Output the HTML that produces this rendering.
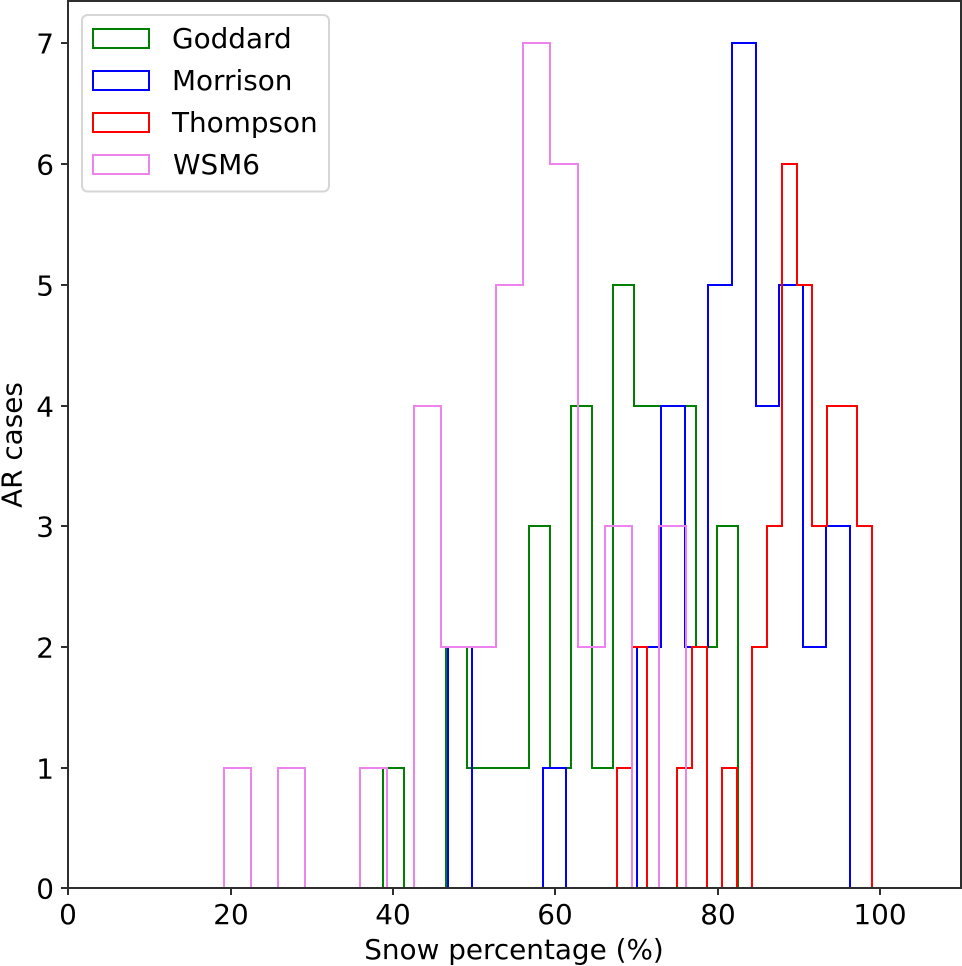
<!DOCTYPE html>
<html>
<head>
<meta charset="utf-8">
<title>Snow percentage histogram</title>
<style>
html,body{margin:0;padding:0;background:#fff;width:962px;height:966px;overflow:hidden}
svg{display:block}
text{font-family:"DejaVu Sans","Liberation Sans",sans-serif;font-size:27.85px;fill:#000}
</style>
</head>
<body>
<svg id="chart" width="962" height="966" viewBox="0 0 962 966" xmlns="http://www.w3.org/2000/svg">
  <defs><clipPath id="plot-clip"><rect x="68" y="1" width="893" height="887"/></clipPath></defs>
  <rect x="0" y="0" width="962" height="966" fill="#fff"/>
  <g id="series" clip-path="url(#plot-clip)"></g>
  <g id="spines" fill="none" stroke="#2e2e2e" stroke-width="2">
    <rect x="68" y="1" width="893" height="887"/>
  </g>
  <g id="x-ticks"></g>
  <g id="y-ticks"></g>
  <text x="514" y="959" text-anchor="middle">Snow percentage (%)</text>
  <text transform="translate(21.5,445) rotate(-90)" text-anchor="middle">AR cases</text>
  <g>
    <rect x="82" y="15" width="247" height="176.5" rx="5.5" ry="5.5" fill="#fff" fill-opacity="0.8" stroke="#d6d6d6" stroke-width="2"/>
    <g>
      <rect x="93" y="29" width="56" height="19" fill="none" stroke="green" stroke-width="2"/>
      <text x="172" y="48">Goddard</text>
    </g>
    <g>
      <rect x="93" y="71" width="56" height="19" fill="none" stroke="blue" stroke-width="2"/>
      <text x="172" y="90">Morrison</text>
    </g>
    <g>
      <rect x="93" y="113" width="56" height="19" fill="none" stroke="red" stroke-width="2"/>
      <text x="172" y="132">Thompson</text>
    </g>
    <g>
      <rect x="93" y="155" width="56" height="19" fill="none" stroke="violet" stroke-width="2"/>
      <text x="173" y="174">WSM6</text>
    </g>
  </g>
</svg>
<script>
const xTickLabels = [0, 20, 40, 60, 80, 100];
const yTickLabels = [0, 1, 2, 3, 4, 5, 6, 7];

const goddardRange = [38.77, 82.49];
const goddardCounts = [1, 0, 0, 2, 1, 1, 1, 3, 1, 4, 1, 5, 4, 4, 4, 2, 3];

const morrisonRange = [46.786, 96.299];
const morrisonCounts = [2, 0, 0, 0, 1, 0, 0, 0, 2, 4, 2, 5, 7, 4, 5, 2, 3];

const thompsonRange = [67.59, 98.99];
const thompsonCounts = [1, 2, 0, 0, 1, 2, 0, 1, 0, 2, 3, 6, 5, 3, 4, 4, 3];

const wsm6Range = [19.15, 76.138];
const wsm6Counts = [1, 0, 1, 0, 0, 1, 0, 4, 2, 2, 5, 7, 6, 2, 3, 0, 3];

const SVG_NS = 'http://www.w3.org/2000/svg';

function xScale(v) { return Math.round(68.2 + v * 8.12); }
function yScale(v) { return Math.round(888.4 - v * 120.71); }

function stepPath(range, counts) {
  const binWidth = (range[1] - range[0]) / counts.length;
  let d = 'M' + xScale(range[0]) + ' ' + yScale(0);
  counts.forEach(function (count, i) {
    const left = xScale(range[0] + i * binWidth);
    const right = xScale(range[0] + (i + 1) * binWidth);
    const level = yScale(count);
    d += 'L' + left + ' ' + level + 'L' + right + ' ' + level;
  });
  d += 'L' + xScale(range[1]) + ' ' + yScale(0) + 'Z';
  return d;
}

const seriesGroup = document.getElementById('series');

function addSeries(name, color, range, counts) {
  const path = document.createElementNS(SVG_NS, 'path');
  
  
  path.setAttribute('d', stepPath(range, counts));
  path.setAttribute('fill', 'none');
  path.setAttribute('stroke', color);
  path.setAttribute('stroke-width', '2');
  path.setAttribute('stroke-linejoin', 'miter');
  seriesGroup.appendChild(path);
}

addSeries('series-goddard', 'green', goddardRange, goddardCounts);
addSeries('series-morrison', 'blue', morrisonRange, morrisonCounts);
addSeries('series-thompson', 'red', thompsonRange, thompsonCounts);
addSeries('series-wsm6', 'violet', wsm6Range, wsm6Counts);

const xTickGroup = document.getElementById('x-ticks');
xTickLabels.forEach(function (value) {
  const px = xScale(value);
  const mark = document.createElementNS(SVG_NS, 'line');
  
  
  mark.setAttribute('x1', px);
  mark.setAttribute('x2', px);
  mark.setAttribute('y1', 888);
  mark.setAttribute('y2', 895);
  mark.setAttribute('stroke', '#2e2e2e');
  mark.setAttribute('stroke-width', '2');
  xTickGroup.appendChild(mark);
  const label = document.createElementNS(SVG_NS, 'text');
  
  
  label.setAttribute('x', px);
  label.setAttribute('y', 924);
  label.setAttribute('text-anchor', 'middle');
  label.textContent = String(value);
  xTickGroup.appendChild(label);
});

const yTickGroup = document.getElementById('y-ticks');
yTickLabels.forEach(function (value) {
  const py = yScale(value);
  const mark = document.createElementNS(SVG_NS, 'line');
  
  
  mark.setAttribute('x1', 61);
  mark.setAttribute('x2', 68);
  mark.setAttribute('y1', py);
  mark.setAttribute('y2', py);
  mark.setAttribute('stroke', '#2e2e2e');
  mark.setAttribute('stroke-width', '2');
  yTickGroup.appendChild(mark);
  const label = document.createElementNS(SVG_NS, 'text');
  
  
  label.setAttribute('x', 54);
  label.setAttribute('y', py + 10.5);
  label.setAttribute('text-anchor', 'end');
  label.textContent = String(value);
  yTickGroup.appendChild(label);
});
</script>
</body>
</html>
